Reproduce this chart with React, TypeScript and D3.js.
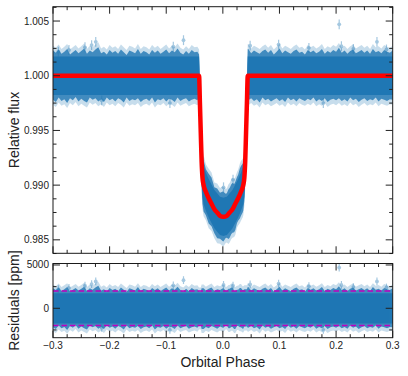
import React from "react";
import * as d3 from "d3";

// ---------- data ----------
const X_TICKS = [-0.3, -0.2, -0.1, 0.0, 0.1, 0.2, 0.3];
const FLUX_TICKS = [0.985, 0.99, 0.995, 1.0, 1.005];
const RES_TICKS = [0, 5000];
const RES_LIMITS = [-2000, 2000];

// transit model (phase, relative flux)
const MODEL_PHASE = [-0.3, -0.042, -0.0405, -0.039, -0.0375, -0.036, -0.034, -0.03, -0.025, -0.02, -0.015, -0.01, -0.005, 0.001, 0.007, 0.012, 0.017, 0.022, 0.027, 0.032, 0.036, 0.038, 0.0395, 0.041, 0.0425, 0.044, 0.3];
const MODEL_FLUX = [1.0, 1.0, 0.9975, 0.9948, 0.9922, 0.9907, 0.99, 0.9894, 0.9888, 0.9883, 0.9878, 0.9875, 0.9872, 0.9871, 0.9872, 0.9875, 0.9878, 0.9883, 0.9888, 0.9894, 0.99, 0.9907, 0.9922, 0.9948, 0.9975, 1.0, 1.0];

// residual cloud envelope (ppm), bins of 0.005 in phase from -0.3
const BIN_START = -0.3;
const BIN_STEP = 0.005;
const ENV_HI = [
  2300, 2100, 2400, 2000, 2200, 2450, 1950, 2150, 2350, 2050,
  2250, 2500, 2000, 2300, 2150, 2400, 2600, 2050, 2200, 1950,
  2350, 2100, 2250, 2000, 2400, 2150, 1900, 2300, 2200, 2050,
  2450, 2000, 2250, 2150, 1950, 2350, 2100, 2300, 2000, 2200,
  2400, 2050, 2300, 2150, 2500, 2100, 1950, 2250, 2000, 2350,
  2150, 2200, 1950, 2300, 2050, 2250, 2400, 2000, 2200, 2100,
  2300, 2050, 2250, 2400, 2000, 2150, 2350, 2100, 2200, 2450,
  2050, 2300, 2150, 2000, 2250, 2400, 2100, 2350, 1950, 2200,
  2500, 2050, 2300, 2150, 2000, 2250, 2400, 2100, 2200, 1950,
  2350, 2150, 2300, 2050, 2200, 2450, 2000, 2250, 2100, 2350,
  2200, 2550, 2100, 2300, 2000, 2250, 2400, 2050, 2200, 2350,
  2100, 2300, 2000, 2450, 2150, 2250, 2050, 2350, 2200, 2100,
  2300,
];
const ENV_LO = [
  -2200, -2400, -2000, -2300, -2150, -2500, -2050, -2250, -1950, -2350,
  -2100, -2300, -2450, -2000, -2200, -2050, -2350, -2150, -2400, -2000,
  -2250, -2100, -2350, -2050, -2200, -2450, -2000, -2300, -2150, -2250,
  -2050, -2400, -2200, -2100, -2300, -2000, -2450, -2150, -2250, -2050,
  -2350, -2100, -2200, -2400, -2000, -2300, -2150, -2050, -2350, -2200,
  -2100, -2250, -2000, -2400, -2150, -2300, -2050, -2200, -2350, -2100,
  -2250, -2000, -2300, -2150, -2400, -2050, -2200, -2350, -2100, -2250,
  -2050, -2300, -2150, -2450, -2000, -2250, -2100, -2350, -2200, -2050,
  -2300, -2150, -2400, -2000, -2250, -2100, -2350, -2050, -2200, -2300,
  -2100, -2250, -2000, -2350, -2150, -2300, -2050, -2400, -2200, -2100,
  -2250, -2050, -2300, -2150, -2350, -2000, -2250, -2100, -2400, -2200,
  -2050, -2300, -2150, -2250, -2000, -2350, -2100, -2200, -2300, -2150,
  -2200,
];
const CORE_HALF = 1750; // dense core half-width (ppm)
const POINT_ERR = 450; // typical error bar (ppm)

// isolated outlying points (phase, residual ppm)
const OUT_PHASE = [-0.2906, -0.2718, -0.2435, -0.2318, -0.2245, -0.214, -0.0935, -0.0875, -0.0695, 0.0012, 0.018, 0.0482, 0.0985, 0.152, 0.1775, 0.2055, 0.2094, 0.2305, 0.2722, 0.289];
const OUT_RES = [2200, 2350, 2600, 2800, 3100, -2250, -2500, 2650, 3250, 2700, 2600, 2750, 2850, 2550, -2500, 4700, 2700, 2450, 3100, 2400];

// ---------- layout ----------
const W = 408;
const H = 376;
const L = 53;
const R = 392.7;
const TOP_Y0 = 6.7;
const TOP_Y1 = 253.3;
const BOT_Y0 = 263.5;
const BOT_Y1 = 337.7;
const BLUE = "#1f77b4";
const FONT = "'Liberation Sans', Arial, Helvetica, sans-serif";

export default function App() {
  const x = d3.scaleLinear().domain([-0.3, 0.3]).range([L, R]);
  const yTop = d3.scaleLinear().domain([0.98377, 1.00631]).range([TOP_Y1, TOP_Y0]);
  const yBot = d3.scaleLinear().domain([-3395, 5170]).range([BOT_Y1, BOT_Y0]);
  const model = d3.scaleLinear().domain(MODEL_PHASE).range(MODEL_FLUX).clamp(true);

  const binPhases = ENV_HI.map((_, i) => BIN_START + i * BIN_STEP);
  const samples = Array.from(new Set([...binPhases, ...MODEL_PHASE].map((p) => +p.toFixed(5)))).sort((a, b) => a - b);
  const binIdx = (p: number) => Math.max(0, Math.min(ENV_HI.length - 1, Math.round((p - BIN_START) / BIN_STEP)));

  const makeArea = (withModel: boolean, lo: (p: number) => number, hi: (p: number) => number) => {
    const y = withModel ? yTop : yBot;
    const base = (p: number) => (withModel ? model(p) : 0);
    const conv = (v: number) => (withModel ? v / 1e6 : v);
    return d3
      .area<number>()
      .x((p) => x(p))
      .y0((p) => y(base(p) + conv(lo(p))))
      .y1((p) => y(base(p) + conv(hi(p))))(samples) as string;
  };

  const layers = (withModel: boolean) => [
    { d: makeArea(withModel, (p) => ENV_LO[binIdx(p)] - POINT_ERR, (p) => ENV_HI[binIdx(p)] + POINT_ERR), op: 0.25 },
    { d: makeArea(withModel, (p) => ENV_LO[binIdx(p)], (p) => ENV_HI[binIdx(p)]), op: 0.8 },
    { d: makeArea(withModel, () => -CORE_HALF, () => CORE_HALF), op: 1 },
  ];

  const modelLine = d3
    .line<number>()
    .x((_, i) => x(MODEL_PHASE[i]))
    .y((f) => yTop(f))
    .curve(d3.curveMonotoneX)(MODEL_FLUX) as string;

  const xMinor = d3.range(-0.3, 0.3001, 0.025).filter((v) => Math.abs(Math.round(v * 10) - v * 10) > 1e-6);
  const fluxMinor = d3.range(0.98375, 1.0063, 0.00125).filter((v) => Math.abs(Math.round(v * 200) - v * 200) > 1e-6);
  const resMinor = [-2500, 2500];

  const tickColor = "#222";
  const MAJ = 7;
  const MIN = 3.5;

  const xTicks = (y0: number, y1: number) => (
    <g stroke={tickColor} strokeWidth={1}>
      {X_TICKS.map((t) => (
        <g key={"M" + t}>
          <line x1={x(t)} x2={x(t)} y1={y0} y2={y0 + MAJ} />
          <line x1={x(t)} x2={x(t)} y1={y1} y2={y1 - MAJ} />
        </g>
      ))}
      {xMinor.map((t) => (
        <g key={"m" + t}>
          <line x1={x(t)} x2={x(t)} y1={y0} y2={y0 + MIN} />
          <line x1={x(t)} x2={x(t)} y1={y1} y2={y1 - MIN} />
        </g>
      ))}
    </g>
  );

  const yTicks = (scale: (v: number) => number, major: number[], minor: number[]) => (
    <g stroke={tickColor} strokeWidth={1}>
      {major.map((t) => (
        <g key={"M" + t}>
          <line x1={L} x2={L + MAJ} y1={scale(t)} y2={scale(t)} />
          <line x1={R} x2={R - MAJ} y1={scale(t)} y2={scale(t)} />
        </g>
      ))}
      {minor.map((t) => (
        <g key={"m" + t}>
          <line x1={L} x2={L + MIN} y1={scale(t)} y2={scale(t)} />
          <line x1={R} x2={R - MIN} y1={scale(t)} y2={scale(t)} />
        </g>
      ))}
    </g>
  );

  const fmtFlux = d3.format(".3f");
  const fmtX = d3.format(".1f");

  const outliers = (withModel: boolean) => {
    const y = withModel ? yTop : yBot;
    const val = (p: number, r: number) => (withModel ? model(p) + r / 1e6 : r);
    const err = withModel ? POINT_ERR / 1e6 : POINT_ERR;
    return (
      <g fill={BLUE} stroke={BLUE} opacity={0.4}>
        {OUT_PHASE.map((p, i) => {
          const v = val(p, OUT_RES[i]);
          return (
            <g key={i}>
              <line x1={x(p)} x2={x(p)} y1={y(v - err)} y2={y(v + err)} strokeWidth={1.2} />
              <circle cx={x(p)} cy={y(v)} r={1.9} stroke="none" />
            </g>
          );
        })}
      </g>
    );
  };

  return (
    <svg width={W} height={H} style={{ position: "absolute", left: 0, top: 0, background: "#fff" }} fontFamily={FONT}>
      <defs>
        <clipPath id="clipTop">
          <rect x={L} y={TOP_Y0} width={R - L} height={TOP_Y1 - TOP_Y0} />
        </clipPath>
        <clipPath id="clipBot">
          <rect x={L} y={BOT_Y0} width={R - L} height={BOT_Y1 - BOT_Y0} />
        </clipPath>
      </defs>
      <rect width={W} height={H} fill="#fff" />

      {/* top panel */}
      <g clipPath="url(#clipTop)">
        {layers(true).map((l, i) => (
          <path key={i} d={l.d} fill={BLUE} fillOpacity={l.op} stroke="none" />
        ))}
        {outliers(true)}
        <path d={modelLine} fill="none" stroke="#ff0000" strokeWidth={4.5} strokeLinejoin="round" />
      </g>
      {xTicks(TOP_Y0, TOP_Y1)}
      {yTicks(yTop, FLUX_TICKS, fluxMinor)}
      <rect x={L} y={TOP_Y0} width={R - L} height={TOP_Y1 - TOP_Y0} fill="none" stroke="#1a1a1a" strokeWidth={1} />
      {FLUX_TICKS.map((t) => (
        <text key={t} x={L - 4} y={yTop(t)} dy="0.35em" textAnchor="end" fontSize={10} fill="#222">
          {fmtFlux(t)}
        </text>
      ))}
      <text transform={`translate(19,${(TOP_Y0 + TOP_Y1) / 2}) rotate(-90)`} textAnchor="middle" fontSize={14} fill="#222">
        Relative flux
      </text>

      {/* residual panel */}
      <g clipPath="url(#clipBot)">
        {layers(false).map((l, i) => (
          <path key={i} d={l.d} fill={BLUE} fillOpacity={l.op} stroke="none" />
        ))}
        {outliers(false)}
        {RES_LIMITS.map((v) => (
          <line key={v} x1={L} x2={R} y1={yBot(v)} y2={yBot(v)} stroke="#bf00bf" strokeWidth={1.5} strokeDasharray="5.5,3" />
        ))}
      </g>
      {xTicks(BOT_Y0, BOT_Y1)}
      {yTicks(yBot, RES_TICKS, resMinor)}
      <rect x={L} y={BOT_Y0} width={R - L} height={BOT_Y1 - BOT_Y0} fill="none" stroke="#1a1a1a" strokeWidth={1} />
      {RES_TICKS.map((t) => (
        <text key={t} x={L - 4} y={yBot(t)} dy="0.35em" textAnchor="end" fontSize={10} fill="#222">
          {t}
        </text>
      ))}
      {X_TICKS.map((t) => (
        <text key={t} x={x(t)} y={349} textAnchor="middle" fontSize={10} fill="#222">
          {fmtX(t)}
        </text>
      ))}
      <text transform={`translate(19,${(BOT_Y0 + BOT_Y1) / 2}) rotate(-90)`} textAnchor="middle" fontSize={14} fill="#222">
        Residuals [ppm]
      </text>
      <text x={(L + R) / 2} y={366.5} textAnchor="middle" fontSize={14} fill="#222">
        Orbital Phase
      </text>
    </svg>
  );
}
